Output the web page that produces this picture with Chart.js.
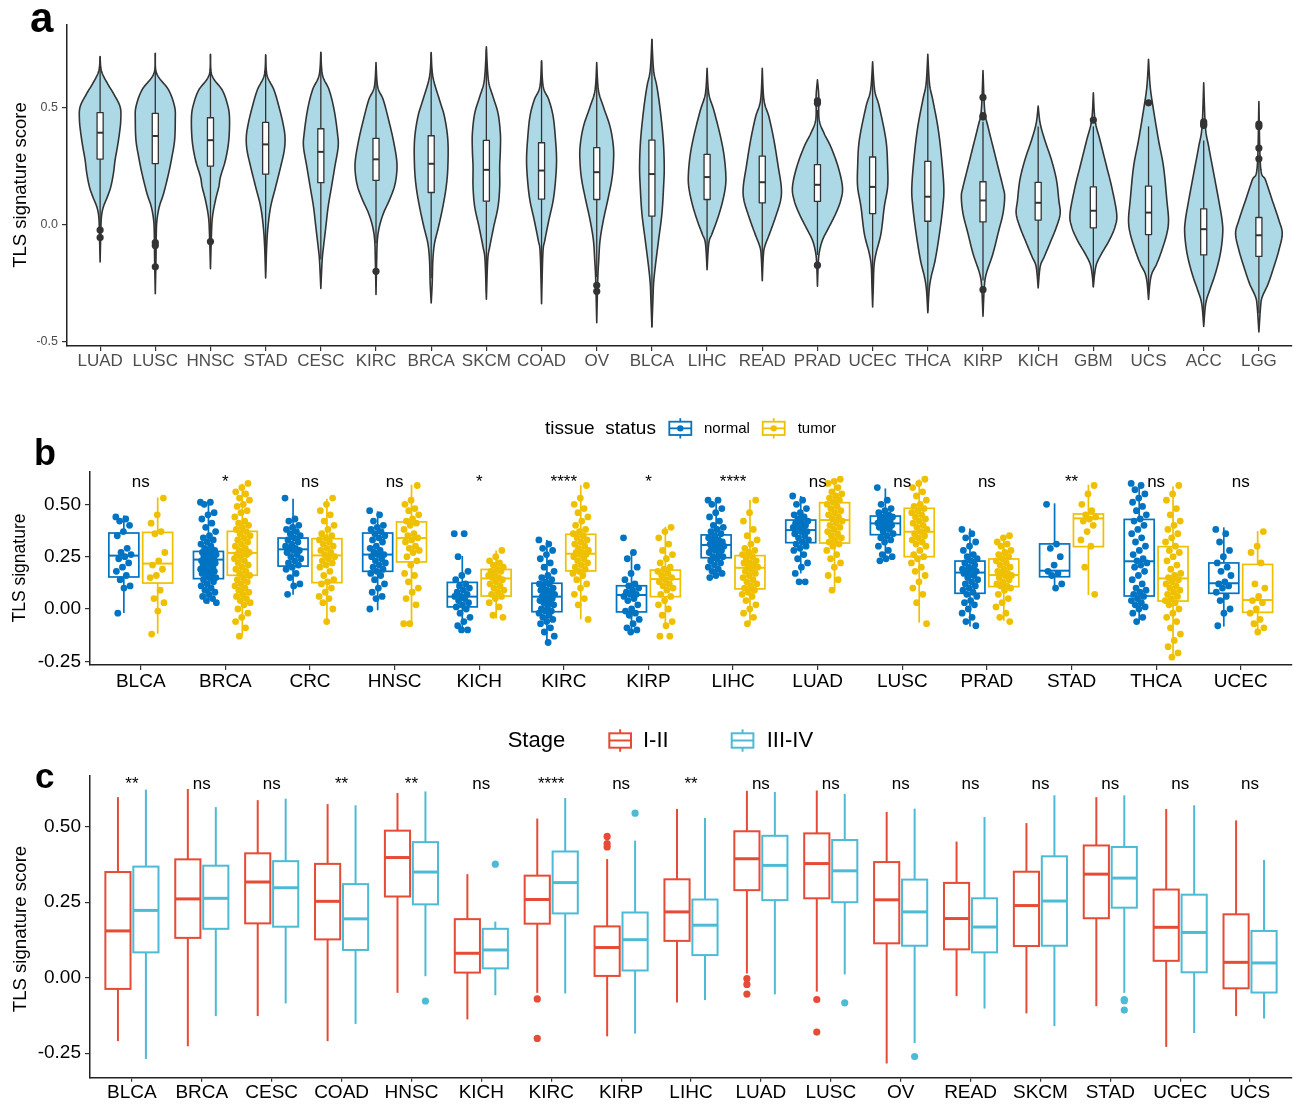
<!DOCTYPE html>
<html><head><meta charset="utf-8">
<script src="https://cdn.jsdelivr.net/npm/chart.js@4.4.0/dist/chart.umd.min.js"></script>
<style>
body{margin:0;background:#fff;width:1298px;height:1104px;overflow:hidden;position:relative}
.p{position:absolute;left:0}
</style></head><body>
<div class="p" style="top:0"><canvas id="ca" width="1298" height="385"></canvas></div>
<div class="p" style="top:390px"><canvas id="cb" width="1298" height="310"></canvas></div>
<div class="p" style="top:700px"><canvas id="cc" width="1298" height="404"></canvas></div>
<script>
// ---------------- Panel a data ----------------
const A_CATS = ['LUAD','LUSC','HNSC','STAD','CESC','KIRC','BRCA','SKCM','COAD','OV','BLCA','LIHC','READ','PRAD','UCEC','THCA','KIRP','KICH','GBM','UCS','ACC','LGG'];
const A_MAX = [0.719,0.733,0.729,0.726,0.737,0.693,0.736,0.761,0.701,0.693,0.793,0.669,0.669,0.619,0.697,0.729,0.659,0.507,0.564,0.707,0.607,0.526];
const A_MIN = [-0.16,-0.296,-0.189,-0.229,-0.274,-0.299,-0.336,-0.32,-0.339,-0.42,-0.439,-0.193,-0.241,-0.264,-0.353,-0.377,-0.393,-0.271,-0.267,-0.321,-0.436,-0.46];
const A_Q1 = [0.28,0.261,0.25,0.216,0.179,0.189,0.137,0.1,0.109,0.107,0.036,0.107,0.093,0.099,0.047,0.014,0.011,0.019,-0.014,-0.043,-0.13,-0.136];
const A_MED = [0.393,0.379,0.361,0.343,0.311,0.279,0.26,0.234,0.231,0.224,0.216,0.203,0.181,0.17,0.161,0.119,0.103,0.093,0.059,0.051,-0.02,-0.046];
const A_Q3 = [0.479,0.476,0.457,0.437,0.41,0.369,0.38,0.36,0.35,0.329,0.361,0.3,0.293,0.256,0.289,0.27,0.183,0.18,0.161,0.164,0.067,0.03];
const A_WLO = [-0.015,-0.06,-0.06,-0.2,-0.15,-0.08,-0.23,-0.29,-0.25,-0.225,-0.439,-0.18,-0.2,-0.13,-0.3,-0.37,-0.24,-0.22,-0.267,-0.3,-0.42,-0.38];
const A_WHI = [0.719,0.733,0.729,0.726,0.737,0.639,0.736,0.75,0.701,0.65,0.793,0.59,0.59,0.49,0.65,0.65,0.44,0.42,0.42,0.42,0.36,0.27];
const A_OUT = [[-0.024,-0.056],[-0.077,-0.09,-0.181],[-0.073],[],[],[-0.2],[],[],[],[-0.26,-0.286],[],[],[],[0.529,0.519,-0.174],[],[],[0.544,0.466,0.46,-0.279],[],[0.447],[0.521],[0.439,0.43,0.424],[0.43,0.42,0.327,0.281]];
// density profile: [score, relative density]
const A_DENS = [
 [[0.657,4],[0.604,22],[0.561,40],[0.504,60],[0.447,62],[0.39,58],[0.333,52],[0.276,45],[0.219,40],[0.161,32],[0.119,22],[0.076,10],[0.033,4],[-0.039,2]],
 [[0.647,4],[0.576,40],[0.504,58],[0.447,60],[0.361,58],[0.29,50],[0.219,40],[0.133,25],[0.076,12],[0.019,5],[-0.039,3],[-0.153,2]],
 [[0.64,4],[0.576,35],[0.519,50],[0.461,57],[0.361,55],[0.276,45],[0.204,30],[0.161,25],[0.104,15],[0.033,6],[-0.039,3]],
 [[0.64,4],[0.576,25],[0.504,40],[0.433,52],[0.376,58],[0.319,56],[0.247,45],[0.161,30],[0.076,15],[-0.01,7],[-0.096,3]],
 [[0.64,5],[0.576,25],[0.49,40],[0.39,50],[0.333,52],[0.247,42],[0.161,32],[0.076,22],[-0.01,15],[-0.096,8],[-0.153,4]],
 [[0.59,5],[0.533,22],[0.447,38],[0.361,52],[0.276,62],[0.219,62],[0.161,55],[0.104,40],[0.047,22],[-0.01,10],[-0.067,4],[-0.153,2]],
 [[0.633,5],[0.533,25],[0.461,40],[0.361,50],[0.247,50],[0.161,45],[0.076,35],[-0.01,22],[-0.081,10],[-0.153,5],[-0.253,3]],
 [[0.619,6],[0.547,20],[0.476,35],[0.39,42],[0.319,42],[0.247,40],[0.161,40],[0.076,35],[-0.01,22],[-0.096,10],[-0.153,4]],
 [[0.59,5],[0.533,22],[0.461,35],[0.361,42],[0.276,45],[0.19,42],[0.104,35],[0.019,22],[-0.067,10],[-0.124,4]],
 [[0.576,5],[0.504,20],[0.419,40],[0.333,50],[0.261,50],[0.19,45],[0.104,33],[0.019,20],[-0.067,10],[-0.153,6],[-0.239,3]],
 [[0.661,5],[0.59,15],[0.49,25],[0.361,34],[0.247,37],[0.161,35],[0.047,30],[-0.067,20],[-0.181,10],[-0.253,5],[-0.324,3]],
 [[0.561,5],[0.49,20],[0.39,38],[0.304,50],[0.219,56],[0.161,55],[0.09,45],[0.019,30],[-0.039,15],[-0.081,5]],
 [[0.533,5],[0.461,20],[0.361,35],[0.247,48],[0.161,57],[0.104,55],[0.033,40],[-0.039,22],[-0.096,7],[-0.139,3]],
 [[0.55,4],[0.45,5],[0.39,20],[0.333,40],[0.247,62],[0.161,75],[0.104,70],[0.047,55],[-0.01,35],[-0.067,15],[-0.124,5],[-0.181,2]],
 [[0.576,6],[0.504,20],[0.361,40],[0.247,45],[0.161,45],[0.076,35],[-0.039,25],[-0.124,10],[-0.181,4],[-0.267,2]],
 [[0.604,5],[0.533,15],[0.419,30],[0.304,40],[0.161,48],[0.076,45],[-0.039,35],[-0.153,22],[-0.224,10],[-0.281,4]],
 [[0.49,5],[0.419,15],[0.333,30],[0.247,45],[0.161,60],[0.119,65],[0.047,60],[-0.039,45],[-0.124,30],[-0.21,10],[-0.267,4]],
 [[0.433,6],[0.361,20],[0.276,40],[0.19,55],[0.104,62],[0.047,66],[-0.01,55],[-0.081,35],[-0.139,18],[-0.181,6]],
 [[0.447,5],[0.361,20],[0.247,40],[0.161,55],[0.047,70],[-0.01,65],[-0.067,48],[-0.124,25],[-0.167,10],[-0.21,4]],
 [[0.59,5],[0.49,15],[0.361,30],[0.247,45],[0.104,55],[0.019,60],[-0.039,55],[-0.11,40],[-0.167,25],[-0.21,10],[-0.253,4]],
 [[0.419,5],[0.333,15],[0.219,30],[0.104,45],[0.019,55],[-0.039,57],[-0.124,50],[-0.21,35],[-0.281,18],[-0.339,6]],
 [[0.247,5],[0.19,20],[0.104,40],[0.019,60],[-0.039,70],[-0.11,60],[-0.181,45],[-0.253,28],[-0.31,10],[-0.353,5]]
];
const A_YTICKS = [-0.5, 0.0, 0.5];

// ---------------- Panel b data ----------------
const B_CATS = ['BLCA','BRCA','CRC','HNSC','KICH','KIRC','KIRP','LIHC','LUAD','LUSC','PRAD','STAD','THCA','UCEC'];
const B_SIG = ['ns','*','ns','ns','*','****','*','****','ns','ns','ns','**','ns','ns'];
const B_GROUPS = ['normal','tumor'];
const N_LO = [-0.019,0.025,0.068,-0.006,-0.1,-0.156,-0.113,0.154,0.17,0.226,-0.084,0.091,-0.061,-0.084];
const N_Q1 = [0.153,0.145,0.205,0.18,0.01,-0.013,-0.014,0.245,0.317,0.355,0.075,0.154,0.062,0.075];
const N_MED = [0.255,0.236,0.285,0.26,0.059,0.059,0.067,0.306,0.377,0.409,0.174,0.183,0.228,0.123];
const N_Q3 = [0.363,0.275,0.339,0.363,0.127,0.123,0.111,0.354,0.425,0.444,0.229,0.311,0.428,0.22];
const N_HI = [0.447,0.514,0.527,0.467,0.253,0.33,0.27,0.525,0.54,0.576,0.385,0.505,0.597,0.39];
const T_LO = [-0.118,-0.126,-0.062,-0.067,-0.046,-0.049,-0.084,-0.068,0.091,-0.065,-0.056,0.067,-0.228,-0.116];
const T_Q1 = [0.124,0.161,0.126,0.225,0.062,0.182,0.059,0.096,0.315,0.25,0.107,0.298,0.038,-0.016];
const T_MED = [0.217,0.268,0.256,0.339,0.146,0.264,0.143,0.197,0.425,0.369,0.162,0.433,0.146,0.043];
const T_Q3 = [0.366,0.371,0.336,0.416,0.189,0.357,0.186,0.255,0.508,0.481,0.239,0.454,0.298,0.213];
const T_HI = [0.533,0.599,0.527,0.594,0.279,0.592,0.393,0.521,0.62,0.619,0.354,0.594,0.586,0.372];
const N_PTS = [
 [0.44,0.43,0.42,0.40,0.37,0.35,0.29,0.27,0.26,0.25,0.24,0.22,0.20,0.18,0.16,0.14,0.11,0.10,-0.02],
 [0.51,0.51,0.50,0.46,0.45,0.43,0.41,0.39,0.37,0.35,0.34,0.33,0.32,0.31,0.30,0.29,0.28,0.28,0.27,0.27,0.26,0.26,0.25,0.25,0.24,0.24,0.23,0.23,0.22,0.22,0.21,0.21,0.20,0.20,0.19,0.19,0.18,0.18,0.17,0.17,0.16,0.16,0.15,0.15,0.14,0.13,0.12,0.11,0.10,0.09,0.08,0.07,0.06,0.05,0.04,0.03],
 [0.53,0.43,0.42,0.40,0.39,0.38,0.37,0.36,0.35,0.34,0.33,0.32,0.31,0.30,0.29,0.29,0.28,0.28,0.27,0.26,0.25,0.24,0.23,0.22,0.21,0.20,0.19,0.17,0.15,0.12,0.11,0.07],
 [0.47,0.45,0.42,0.40,0.39,0.38,0.37,0.36,0.35,0.34,0.33,0.32,0.30,0.29,0.28,0.27,0.26,0.26,0.25,0.24,0.23,0.22,0.21,0.20,0.19,0.18,0.17,0.16,0.14,0.12,0.10,0.08,0.06,0.05,0.00],
 [0.36,0.36,0.25,0.18,0.16,0.14,0.12,0.11,0.10,0.09,0.08,0.07,0.06,0.06,0.05,0.04,0.03,0.02,0.01,0.00,-0.02,-0.04,-0.06,-0.08,-0.10,-0.10],
 [0.33,0.31,0.29,0.28,0.26,0.24,0.22,0.20,0.18,0.16,0.15,0.14,0.13,0.12,0.12,0.11,0.10,0.09,0.09,0.08,0.07,0.07,0.06,0.06,0.05,0.05,0.04,0.03,0.03,0.02,0.01,0.00,-0.01,-0.01,-0.02,-0.03,-0.04,-0.05,-0.06,-0.07,-0.09,-0.11,-0.13,-0.16],
 [0.34,0.27,0.24,0.20,0.17,0.14,0.12,0.11,0.10,0.09,0.08,0.07,0.07,0.06,0.05,0.04,0.02,0.00,-0.01,-0.02,-0.03,-0.05,-0.07,-0.09,-0.10,-0.11],
 [0.52,0.52,0.50,0.48,0.46,0.44,0.42,0.40,0.39,0.38,0.37,0.36,0.35,0.34,0.33,0.33,0.32,0.32,0.31,0.31,0.30,0.30,0.29,0.29,0.28,0.28,0.27,0.26,0.25,0.25,0.24,0.23,0.22,0.21,0.20,0.19,0.18,0.17,0.16,0.15],
 [0.54,0.52,0.50,0.48,0.46,0.45,0.44,0.43,0.42,0.41,0.41,0.40,0.39,0.39,0.38,0.38,0.37,0.37,0.36,0.35,0.34,0.33,0.32,0.31,0.30,0.29,0.28,0.26,0.24,0.22,0.20,0.17,0.13,0.13],
 [0.58,0.52,0.50,0.48,0.47,0.46,0.45,0.44,0.44,0.43,0.43,0.42,0.42,0.41,0.41,0.40,0.40,0.39,0.39,0.38,0.37,0.36,0.35,0.34,0.33,0.32,0.30,0.28,0.26,0.25,0.24,0.23],
 [0.38,0.36,0.34,0.32,0.30,0.28,0.26,0.25,0.24,0.23,0.22,0.21,0.20,0.19,0.19,0.18,0.18,0.17,0.17,0.16,0.15,0.14,0.13,0.12,0.11,0.10,0.09,0.08,0.07,0.06,0.04,0.03,0.02,0.00,-0.02,-0.04,-0.06,-0.08],
 [0.50,0.31,0.29,0.25,0.21,0.18,0.17,0.16,0.12,0.10],
 [0.60,0.59,0.57,0.55,0.53,0.51,0.49,0.47,0.45,0.43,0.42,0.40,0.38,0.36,0.34,0.32,0.30,0.28,0.26,0.24,0.23,0.22,0.21,0.20,0.18,0.16,0.14,0.12,0.10,0.09,0.08,0.07,0.06,0.05,0.04,0.03,0.02,0.01,0.00,-0.02,-0.04,-0.06],
 [0.38,0.36,0.32,0.28,0.25,0.22,0.20,0.18,0.16,0.13,0.12,0.11,0.10,0.08,0.06,0.04,0.00,-0.02,-0.08]
];
const T_PTS = [
 [0.53,0.45,0.41,0.37,0.36,0.27,0.23,0.21,0.19,0.16,0.15,0.09,0.05,0.03,-0.01,-0.12],
 [0.60,0.58,0.56,0.55,0.53,0.52,0.50,0.49,0.47,0.46,0.44,0.42,0.41,0.40,0.39,0.38,0.37,0.36,0.35,0.34,0.33,0.32,0.31,0.30,0.29,0.28,0.27,0.27,0.26,0.26,0.25,0.24,0.23,0.22,0.21,0.20,0.19,0.18,0.17,0.16,0.15,0.14,0.13,0.12,0.11,0.10,0.09,0.08,0.07,0.06,0.05,0.04,0.03,0.02,0.00,-0.02,-0.04,-0.06,-0.09,-0.13],
 [0.53,0.50,0.47,0.45,0.42,0.40,0.38,0.36,0.35,0.34,0.33,0.32,0.31,0.30,0.29,0.28,0.27,0.26,0.25,0.24,0.23,0.22,0.21,0.20,0.18,0.16,0.14,0.13,0.12,0.10,0.08,0.06,0.05,0.03,0.00,-0.06],
 [0.59,0.52,0.50,0.48,0.47,0.45,0.43,0.42,0.41,0.40,0.38,0.36,0.35,0.34,0.33,0.32,0.30,0.29,0.28,0.27,0.25,0.23,0.21,0.17,0.16,0.13,0.10,0.08,0.05,0.02,-0.07,-0.07],
 [0.28,0.25,0.23,0.22,0.21,0.20,0.19,0.18,0.18,0.17,0.16,0.15,0.15,0.14,0.13,0.12,0.11,0.10,0.09,0.08,0.07,0.06,0.05,0.03,0.01,-0.03,-0.04],
 [0.59,0.53,0.50,0.48,0.46,0.44,0.42,0.40,0.38,0.37,0.36,0.35,0.34,0.33,0.32,0.31,0.30,0.29,0.28,0.27,0.27,0.26,0.26,0.25,0.24,0.23,0.22,0.21,0.20,0.19,0.18,0.17,0.16,0.14,0.12,0.10,0.07,0.05,0.02,-0.05],
 [0.39,0.37,0.34,0.31,0.28,0.26,0.24,0.22,0.20,0.19,0.18,0.17,0.16,0.15,0.14,0.13,0.12,0.11,0.10,0.09,0.07,0.06,0.04,0.02,0.00,-0.03,-0.06,-0.08,-0.13,-0.13],
 [0.52,0.46,0.42,0.38,0.35,0.33,0.31,0.29,0.28,0.27,0.26,0.25,0.24,0.23,0.22,0.22,0.21,0.20,0.20,0.19,0.18,0.17,0.16,0.15,0.14,0.13,0.12,0.11,0.10,0.09,0.08,0.07,0.06,0.04,0.02,0.00,-0.02,-0.04,-0.07],
 [0.62,0.61,0.60,0.58,0.56,0.55,0.54,0.53,0.52,0.51,0.50,0.49,0.48,0.47,0.46,0.45,0.44,0.43,0.42,0.41,0.40,0.39,0.38,0.37,0.36,0.35,0.34,0.33,0.32,0.31,0.30,0.28,0.26,0.24,0.22,0.20,0.16,0.14,0.09],
 [0.62,0.60,0.58,0.56,0.54,0.52,0.50,0.49,0.48,0.47,0.46,0.45,0.44,0.43,0.42,0.41,0.40,0.39,0.38,0.37,0.36,0.35,0.34,0.33,0.32,0.31,0.30,0.28,0.26,0.25,0.24,0.22,0.20,0.18,0.16,0.13,0.10,0.07,0.03,-0.07],
 [0.35,0.34,0.32,0.31,0.30,0.28,0.27,0.26,0.25,0.24,0.23,0.22,0.21,0.20,0.19,0.18,0.17,0.17,0.16,0.16,0.15,0.14,0.13,0.12,0.11,0.11,0.10,0.09,0.07,0.05,0.03,0.01,-0.02,-0.04,-0.06],
 [0.59,0.55,0.50,0.47,0.45,0.44,0.43,0.42,0.40,0.37,0.33,0.30,0.20,0.07],
 [0.59,0.55,0.52,0.48,0.45,0.42,0.40,0.38,0.36,0.34,0.32,0.30,0.28,0.27,0.25,0.23,0.21,0.19,0.17,0.16,0.15,0.14,0.13,0.12,0.11,0.10,0.09,0.08,0.07,0.06,0.05,0.04,0.03,0.02,0.00,-0.02,-0.04,-0.06,-0.09,-0.12,-0.15,-0.18,-0.21,-0.23],
 [0.37,0.30,0.27,0.22,0.12,0.10,0.06,0.04,0.03,0.00,-0.02,-0.05,-0.07,-0.09,-0.11]
];
const B_YTICKS = [-0.25, 0.0, 0.25, 0.5];

// ---------------- Panel c data ----------------
const C_CATS = ['BLCA','BRCA','CESC','COAD','HNSC','KICH','KIRC','KIRP','LIHC','LUAD','LUSC','OV','READ','SKCM','STAD','UCEC','UCS'];
const C_SIG = ['**','ns','ns','**','**','ns','****','ns','**','ns','ns','ns','ns','ns','ns','ns','ns'];
const C_GROUPS = ['I-II','III-IV'];
const E_LO = [-0.21,-0.227,-0.127,-0.21,-0.05,-0.138,-0.05,-0.194,-0.082,0.014,-0.046,-0.284,-0.061,-0.118,-0.094,-0.229,-0.127];
const E_Q1 = [-0.037,0.132,0.18,0.127,0.269,0.017,0.179,0.006,0.122,0.29,0.263,0.114,0.094,0.105,0.197,0.056,-0.035];
const E_MED = [0.155,0.261,0.317,0.253,0.398,0.081,0.259,0.1,0.218,0.394,0.378,0.258,0.196,0.239,0.343,0.167,0.051];
const E_Q3 = [0.35,0.392,0.412,0.377,0.487,0.194,0.338,0.17,0.326,0.485,0.478,0.383,0.314,0.351,0.438,0.292,0.21];
const E_HI = [0.598,0.625,0.588,0.575,0.612,0.343,0.527,0.393,0.559,0.619,0.62,0.549,0.451,0.512,0.598,0.559,0.521];
const E_OUT = [[],[],[],[],[],[],[-0.07,-0.201],[0.468,0.444,0.433],[],[-0.003,-0.022,-0.054],[-0.072,-0.18],[],[],[],[],[],[]];
const L_LO = [-0.269,-0.127,-0.085,-0.153,0.005,-0.058,-0.052,-0.185,-0.074,-0.055,0.011,-0.216,-0.102,-0.16,-0.05,-0.183,-0.135];
const L_Q1 = [0.084,0.162,0.169,0.092,0.243,0.031,0.213,0.024,0.075,0.257,0.25,0.106,0.084,0.106,0.232,0.018,-0.049];
const L_MED = [0.223,0.263,0.298,0.195,0.35,0.092,0.315,0.126,0.174,0.372,0.354,0.218,0.168,0.254,0.33,0.15,0.049];
const L_Q3 = [0.368,0.371,0.386,0.31,0.449,0.162,0.418,0.216,0.259,0.47,0.456,0.325,0.263,0.402,0.433,0.275,0.155];
const L_HI = [0.623,0.565,0.593,0.571,0.617,0.186,0.595,0.454,0.529,0.615,0.609,0.56,0.532,0.604,0.604,0.571,0.39];
const L_OUT = [[],[],[],[],[-0.077],[0.376],[],[0.545],[],[],[-0.083],[-0.261],[],[],[-0.072,-0.076,-0.107],[],[]];
const C_YTICKS = [-0.25, 0.0, 0.25, 0.5];

// ---------------- helpers ----------------
const FONT = '"Liberation Sans", Arial, Helvetica, sans-serif';
const COL = {violin:'#ADD8E6', dark:'#333333', normal:'#0073C2', tumor:'#EFC000', early:'#E64B35', late:'#4DBBD5'};

function catmull(pts, steps){
  const out=[];
  for(let i=0;i<pts.length-1;i++){
    const p0=pts[Math.max(i-1,0)], p1=pts[i], p2=pts[i+1], p3=pts[Math.min(i+2,pts.length-1)];
    for(let s=0;s<steps;s++){
      const t=s/steps, t2=t*t, t3=t2*t;
      const f=(a,b,c,d)=>0.5*((2*b)+(-a+c)*t+(2*a-5*b+4*c-d)*t2+(-a+3*b-3*c+d)*t3);
      out.push([f(p0[0],p1[0],p2[0],p3[0]), Math.max(0,f(p0[1],p1[1],p2[1],p3[1]))]);
    }
  }
  out.push(pts[pts.length-1]);
  return out;
}
function line(ctx,x1,y1,x2,y2){ctx.beginPath();ctx.moveTo(x1,y1);ctx.lineTo(x2,y2);ctx.stroke();}
function jitter(k){ return (((k*0.6180339887)%1)-0.5)*0.19; }
function textPlugin(id, items){
  return {id, afterDraw(chart){
    const ctx=chart.ctx;
    items.forEach(t=>{
      ctx.save(); ctx.font=t.font; ctx.fillStyle=t.color||'#000';
      ctx.textAlign=t.align||'left'; ctx.textBaseline=t.base||'alphabetic';
      ctx.translate(t.x,t.y); if(t.rot) ctx.rotate(t.rot);
      ctx.fillText(t.text,0,0); ctx.restore();
    });
  }};
}
function axisX(cats, min, max, h, color, size, tl){
  return {type:'linear', min, max,
    afterBuildTicks:s=>{s.ticks=cats.map((c,i)=>({value:i}));},
    afterFit:s=>{s.height=h;},
    ticks:{callback:v=>cats[v], autoSkip:false, maxRotation:0, minRotation:0, padding:0, color, font:{family:FONT,size}},
    grid:{display:true, drawOnChartArea:false, drawTicks:true, tickLength:tl, color:'#333', lineWidth:1.2},
    border:{display:true, color:'#222', width:1.5}};
}
function axisY(vals, min, max, w, color, size, dec){
  return {type:'linear', min, max,
    afterBuildTicks:s=>{s.ticks=vals.map(v=>({value:v}));},
    afterFit:s=>{s.width=w;},
    ticks:{callback:v=>Number(v).toFixed(dec), padding:4, color, font:{family:FONT,size}},
    grid:{display:true, drawOnChartArea:false, drawTicks:true, tickLength:5, color:'#333', lineWidth:1.2},
    border:{display:true, color:'#222', width:1.5}};
}
const baseOpts = {responsive:false, animation:false, devicePixelRatio:1, events:[],
  plugins:{legend:{display:false}, tooltip:{enabled:false}}};

// ---------------- Chart a ----------------
const VSCALE = 1/165.6, BOXH_A = 0.055;
const violinPlugin = {id:'violins', beforeDatasetsDraw(chart){
  const {ctx, scales:{x,y}} = chart;
  ctx.save();
  A_CATS.forEach((c,i)=>{
    const pts = catmull([[A_MAX[i],0], ...A_DENS[i], [A_MIN[i],0]], 12);
    ctx.beginPath();
    pts.forEach(([v,d],k)=>{const px=x.getPixelForValue(i+d*VSCALE), py=y.getPixelForValue(v); k?ctx.lineTo(px,py):ctx.moveTo(px,py);});
    for(let k=pts.length-1;k>=0;k--){const [v,d]=pts[k]; ctx.lineTo(x.getPixelForValue(i-d*VSCALE), y.getPixelForValue(v));}
    ctx.closePath();
    ctx.fillStyle=COL.violin; ctx.fill();
    ctx.lineWidth=1.6; ctx.strokeStyle=COL.dark; ctx.lineJoin='round'; ctx.stroke();
    const cx=x.getPixelForValue(i), l=x.getPixelForValue(i-BOXH_A), r=x.getPixelForValue(i+BOXH_A);
    ctx.lineWidth=1.3;
    line(ctx,cx,y.getPixelForValue(A_WHI[i]),cx,y.getPixelForValue(A_Q3[i]));
    line(ctx,cx,y.getPixelForValue(A_Q1[i]),cx,y.getPixelForValue(A_WLO[i]));
    const t=y.getPixelForValue(A_Q3[i]), b=y.getPixelForValue(A_Q1[i]);
    ctx.fillStyle='#fff'; ctx.fillRect(l,t,r-l,b-t); ctx.strokeRect(l,t,r-l,b-t);
    ctx.lineWidth=2; line(ctx,l,y.getPixelForValue(A_MED[i]),r,y.getPixelForValue(A_MED[i]));
  });
  ctx.restore();
}};
const aOut=[]; A_OUT.forEach((arr,i)=>arr.forEach(v=>aOut.push({x:i,y:v})));
new Chart(document.getElementById('ca'), {
  type:'scatter',
  data:{datasets:[{data:aOut, pointRadius:3.6, pointBackgroundColor:COL.dark, pointBorderWidth:0}]},
  options:Object.assign({}, baseOpts, {
    layout:{padding:{left:0,right:6,top:25,bottom:0}},
    scales:{x:axisX(A_CATS,-0.6,21.6,39,'#4d4d4d',17,5), y:axisY(A_YTICKS,-0.52,0.854,67,'#4d4d4d',12.5,1)}
  }),
  plugins:[violinPlugin, textPlugin('ta',[
    {text:'a', x:30, y:32, font:'bold 42px '+FONT},
    {text:'TLS signature score', x:20.5, y:185, rot:-Math.PI/2, align:'center', base:'middle', font:'18.5px '+FONT}
  ])]
});

// ---------------- box plugin (b, c) ----------------
function boxPlugin(id, cats, groups, dodge, half, lw, mlw, sigs, sigY, sigFont){
  return {id,
    beforeDatasetsDraw(chart){
      const {ctx, scales:{x,y}} = chart;
      ctx.save(); ctx.lineCap='butt';
      cats.forEach((c,i)=>{
        groups.forEach((g,gi)=>{
          const off = gi===0 ? -dodge : dodge;
          const cx=x.getPixelForValue(i+off), l=x.getPixelForValue(i+off-half), r=x.getPixelForValue(i+off+half);
          ctx.strokeStyle=g.color; ctx.lineWidth=lw;
          line(ctx,cx,y.getPixelForValue(g.hi[i]),cx,y.getPixelForValue(g.q3[i]));
          line(ctx,cx,y.getPixelForValue(g.q1[i]),cx,y.getPixelForValue(g.lo[i]));
          const t=y.getPixelForValue(g.q3[i]), b=y.getPixelForValue(g.q1[i]);
          ctx.strokeRect(l,t,r-l,b-t);
          ctx.lineWidth=mlw; line(ctx,l,y.getPixelForValue(g.med[i]),r,y.getPixelForValue(g.med[i]));
        });
      });
      ctx.restore();
    },
    afterDatasetsDraw(chart){
      const {ctx, scales:{x,y}} = chart;
      ctx.save(); ctx.font=sigFont; ctx.fillStyle='#000'; ctx.textAlign='center'; ctx.textBaseline='alphabetic';
      sigs.forEach((s,i)=>ctx.fillText(s, x.getPixelForValue(i), y.getPixelForValue(sigY)));
      ctx.restore();
    }};
}
function legendKey(ctx, x, y, w, h, wh, color, lw, dot){
  ctx.save(); ctx.strokeStyle=color; ctx.lineWidth=lw;
  line(ctx,x+w/2,y-wh,x+w/2,y);
  line(ctx,x+w/2,y+h,x+w/2,y+h+wh);
  ctx.strokeRect(x,y,w,h);
  line(ctx,x,y+h/2,x+w,y+h/2);
  if(dot){ctx.fillStyle=color; ctx.beginPath(); ctx.arc(x+w/2,y+h/2,3.2,0,Math.PI*2); ctx.fill();}
  ctx.restore();
}

// ---------------- Chart b ----------------
const bGroups=[
  {name:B_GROUPS[0], color:COL.normal, lo:N_LO, q1:N_Q1, med:N_MED, q3:N_Q3, hi:N_HI},
  {name:B_GROUPS[1], color:COL.tumor, lo:T_LO, q1:T_Q1, med:T_MED, q3:T_Q3, hi:T_HI}];
const bN=[], bT=[];
N_PTS.forEach((arr,i)=>arr.forEach((v,k)=>bN.push({x:i-0.2+jitter(k), y:v})));
T_PTS.forEach((arr,i)=>arr.forEach((v,k)=>bT.push({x:i+0.2+jitter(k+3), y:v})));
const bLegend={id:'bleg', afterDraw(chart){
  const ctx=chart.ctx; ctx.save();
  ctx.fillStyle='#000'; ctx.textBaseline='middle';
  ctx.font='19px '+FONT; ctx.fillText('tissue  status',545,38.5);
  legendKey(ctx,669.3,31.7,22,13.3,3.5,COL.normal,1.8,true);
  legendKey(ctx,762.7,31.7,22,13.3,3.5,COL.tumor,1.8,true);
  ctx.fillStyle='#000'; ctx.font='15px '+FONT;
  ctx.fillText(B_GROUPS[0],704,38.5); ctx.fillText(B_GROUPS[1],797.7,38.5);
  ctx.restore();
}};
new Chart(document.getElementById('cb'), {
  type:'scatter',
  data:{datasets:[
    {data:bN, pointRadius:3.4, pointBackgroundColor:COL.normal, pointBorderWidth:0},
    {data:bT, pointRadius:3.4, pointBackgroundColor:COL.tumor, pointBorderWidth:0}]},
  options:Object.assign({}, baseOpts, {
    layout:{padding:{left:0,right:6.5,top:81.7,bottom:0}},
    scales:{x:axisX(B_CATS,-0.6,13.6,35,'#000',19,5), y:axisY(B_YTICKS,-0.2676,0.656,90,'#000',19,2)}
  }),
  plugins:[boxPlugin('bbox',B_CATS,bGroups,0.2,0.177,1.7,2,B_SIG,0.583,'17px '+FONT), bLegend, textPlugin('tb',[
    {text:'b', x:34, y:75, font:'bold 36px '+FONT},
    {text:'TLS signature', x:20.5, y:178, rot:-Math.PI/2, align:'center', base:'middle', font:'17.5px '+FONT}
  ])]
});

// ---------------- Chart c ----------------
const cGroups=[
  {name:C_GROUPS[0], color:COL.early, lo:E_LO, q1:E_Q1, med:E_MED, q3:E_Q3, hi:E_HI},
  {name:C_GROUPS[1], color:COL.late, lo:L_LO, q1:L_Q1, med:L_MED, q3:L_Q3, hi:L_HI}];
const cE=[], cL=[];
E_OUT.forEach((arr,i)=>arr.forEach(v=>cE.push({x:i-0.2,y:v})));
L_OUT.forEach((arr,i)=>arr.forEach(v=>cL.push({x:i+0.2,y:v})));
const cLegend={id:'cleg', afterDraw(chart){
  const ctx=chart.ctx; ctx.save();
  ctx.fillStyle='#000'; ctx.textBaseline='middle';
  ctx.font='22px '+FONT; ctx.fillText('Stage',507.7,41);
  legendKey(ctx,609.3,33.3,21.7,14.4,4,COL.early,2,false);
  legendKey(ctx,731.7,33.3,21.7,14.4,4,COL.late,2,false);
  ctx.fillStyle='#000'; ctx.font='22px '+FONT;
  ctx.fillText(C_GROUPS[0],643,41); ctx.fillText(C_GROUPS[1],766.7,41);
  ctx.restore();
}};
new Chart(document.getElementById('cc'), {
  type:'scatter',
  data:{datasets:[
    {data:cE, pointRadius:3.6, pointBackgroundColor:COL.early, pointBorderWidth:0},
    {data:cL, pointRadius:3.6, pointBackgroundColor:COL.late, pointBorderWidth:0}]},
  options:Object.assign({}, baseOpts, {
    layout:{padding:{left:0,right:6,top:75.7,bottom:0}},
    scales:{x:axisX(C_CATS,-0.6,16.6,26.3,'#000',19,4), y:axisY(C_YTICKS,-0.331,0.669,90,'#000',19,2)}
  }),
  plugins:[boxPlugin('cbox',C_CATS,cGroups,0.2,0.18,2,3,C_SIG,0.624,'17px '+FONT), cLegend, textPlugin('tc',[
    {text:'c', x:35, y:88, font:'bold 35px '+FONT},
    {text:'TLS signature score', x:20.5, y:229, rot:-Math.PI/2, align:'center', base:'middle', font:'18.6px '+FONT}
  ])]
});
</script>
</body></html>
